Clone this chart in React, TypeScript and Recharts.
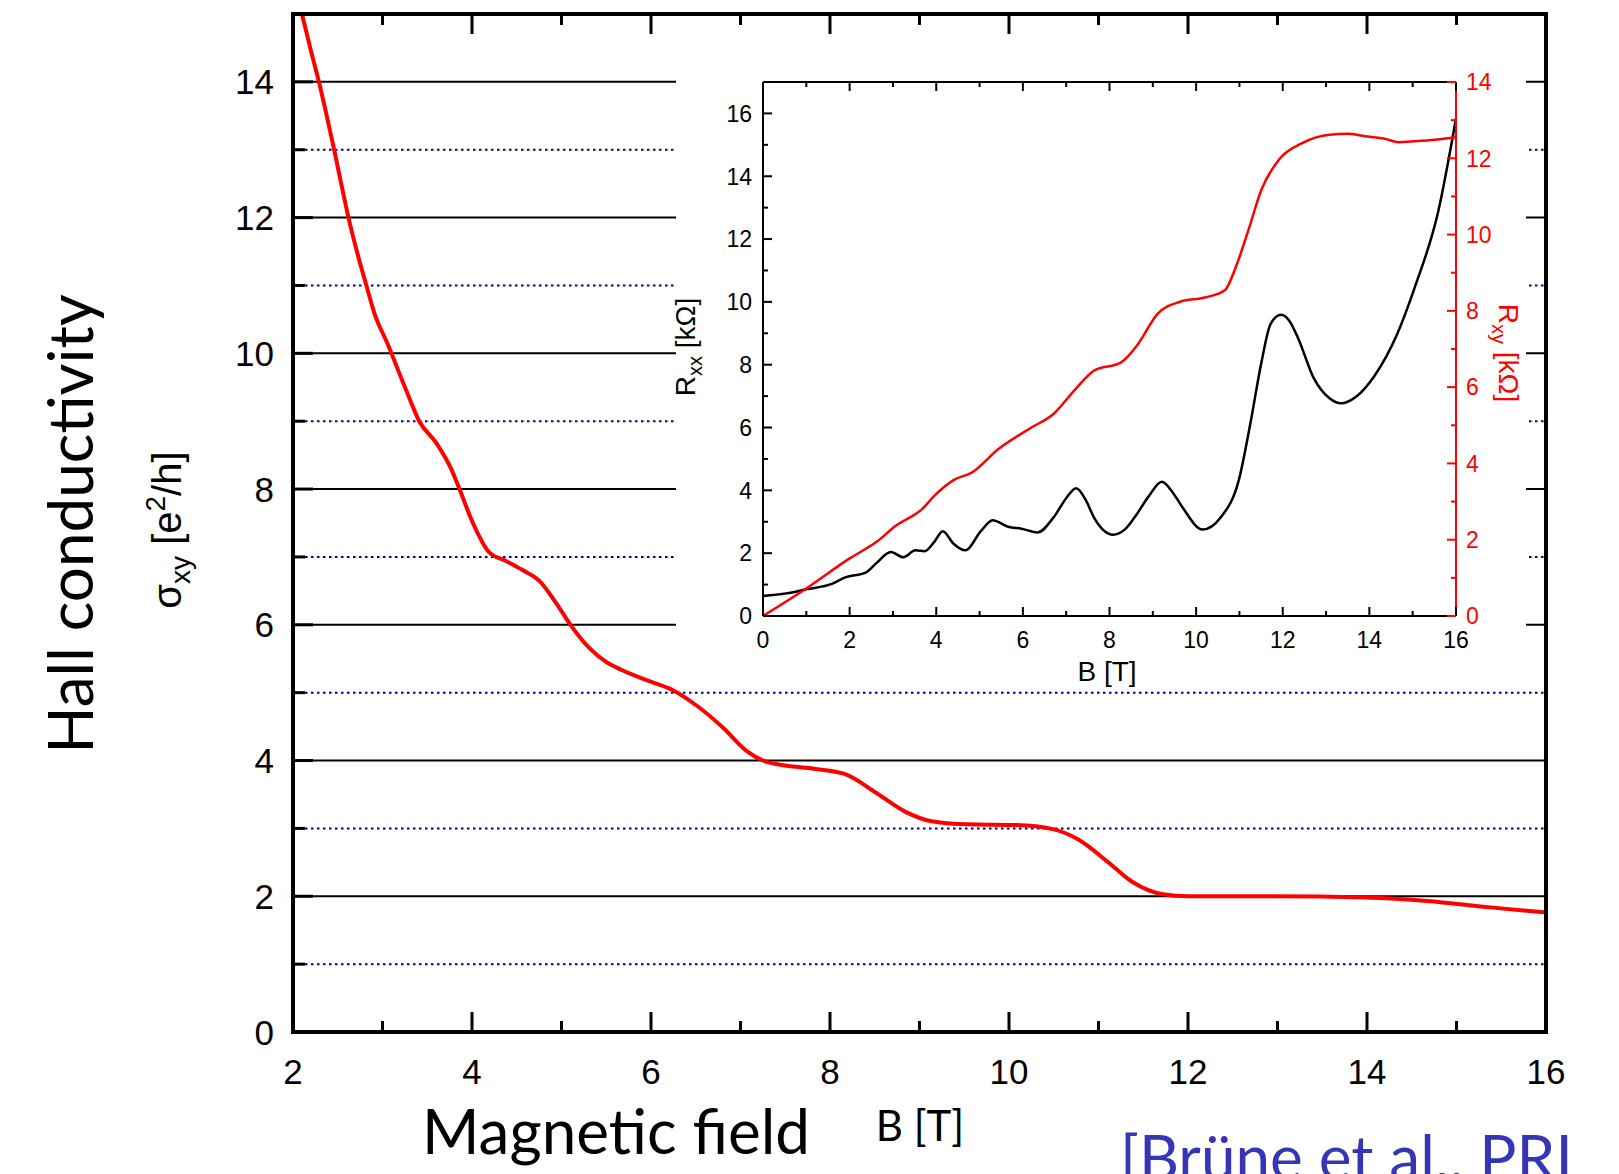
import React from 'react';
import { LineChart, Line, XAxis, YAxis, ReferenceLine } from 'recharts';

// main panel: Hall conductivity (e^2/h) against field B (T)
const mainField = [
  2.10, 2.20, 2.29, 2.37, 2.46, 2.54, 2.62, 2.72, 2.82, 2.91, 3.06, 3.26, 3.41, 3.60, 3.77, 3.86,
  4.01, 4.19, 4.38, 4.56, 4.75, 4.94, 5.10, 5.31, 5.49, 5.68, 5.98, 6.24, 6.52, 6.80, 7.07, 7.27,
  7.48, 7.82, 8.17, 8.51, 8.85, 9.12, 9.53, 10.08, 10.49, 10.77, 11.11, 11.38, 11.72, 12.0, 12.96,
  13.98, 14.67, 15.35, 16.0,
];
const mainSigma = [
  15.0, 14.46, 14.0, 13.54, 13.0, 12.49, 12.0, 11.47, 11.0, 10.59, 10.13, 9.47, 9.0, 8.68, 8.29, 8.0,
  7.50, 7.07, 6.94, 6.81, 6.65, 6.32, 6.0, 5.66, 5.46, 5.33, 5.17, 5.04, 4.80, 4.49, 4.14, 3.99,
  3.93, 3.88, 3.80, 3.53, 3.24, 3.11, 3.06, 3.05, 2.99, 2.84, 2.50, 2.21, 2.03, 2.0, 2.0,
  1.98, 1.93, 1.84, 1.76,
];
const plateauLevels = [2, 4, 6, 8, 10, 12, 14];
const halfLevels = [1, 3, 5, 7, 9, 11, 13];
const mainXTicks = [2, 3, 4, 5, 6, 7, 8, 9, 10, 11, 12, 13, 14, 15, 16];
const mainYTicks = [0, 1, 2, 3, 4, 5, 6, 7, 8, 9, 10, 11, 12, 13, 14];

// inset: Rxx (left axis) and Rxy (right axis), kOhm
const rxxField = [
  0, 0.54, 1.0, 1.59, 1.9, 2.37, 2.63, 2.95, 3.24, 3.52, 3.73, 3.95, 4.15, 4.4, 4.67, 5.03, 5.30,
  5.66, 5.97, 6.34, 6.71, 7.0, 7.23, 7.45, 7.64, 8.08, 8.35, 8.58, 8.9, 9.21, 9.45, 9.68, 10.15,
  10.57, 10.99, 11.25, 11.51, 11.72, 11.96, 12.15, 12.35, 12.71, 13.08, 13.34, 13.7, 14.12, 14.64,
  15.06, 15.58, 16.0,
];
const rxxValues = [
  0.64, 0.72, 0.85, 1.02, 1.23, 1.38, 1.70, 2.04, 1.87, 2.09, 2.06, 2.35, 2.70, 2.30, 2.09, 2.70, 3.05,
  2.84, 2.78, 2.66, 3.14, 3.75, 4.07, 3.70, 3.14, 2.59, 2.75, 3.14, 3.80, 4.27, 3.95, 3.47, 2.75,
  3.14, 4.35, 6.11, 8.09, 9.30, 9.59, 9.40, 8.86, 7.59, 6.93, 6.77, 6.99, 7.65, 8.97,
  10.51, 12.82, 15.84,
];
const rxyField = [
  0, 1.0, 2.0, 2.63, 3.05, 3.68, 4.0, 4.41, 4.82, 5.45, 6.18, 6.70, 7.23, 7.64, 8.27, 8.64, 9.11,
  9.63, 10.2, 10.67, 10.93, 11.2, 11.51, 11.93, 12.45, 13.08, 13.5, 13.9, 14.33, 14.7, 14.96, 15.38, 16.0,
];
const rxyValues = [
  0, 0.72, 1.51, 1.95, 2.35, 2.81, 3.20, 3.57, 3.76, 4.39, 4.93, 5.29, 5.97, 6.43, 6.65, 7.10, 7.92,
  8.24, 8.35, 8.55, 9.19, 10.09, 11.18, 11.99, 12.40, 12.62, 12.64, 12.58, 12.52, 12.42, 12.44, 12.47, 12.55,
];
const insetXTicks = [0, 1, 2, 3, 4, 5, 6, 7, 8, 9, 10, 11, 12, 13, 14, 15, 16];
const insetLeftTicks = [0, 1, 2, 3, 4, 5, 6, 7, 8, 9, 10, 11, 12, 13, 14, 15, 16];
const insetRightTicks = [0, 1, 2, 3, 4, 5, 6, 7, 8, 9, 10, 11, 12, 13, 14];

const mainData = mainField.map((b, i) => ({ b, sigma: mainSigma[i] }));
const rxxData = rxxField.map((b, i) => ({ b, r: rxxValues[i] }));
const rxyData = rxyField.map((b, i) => ({ b, r: rxyValues[i] }));

const HELV = 'Liberation Sans, Arial, Helvetica, sans-serif';
const SANS = 'Lato, Liberation Sans, sans-serif';
const RED = '#ff0000';

type Side = 'left' | 'right' | 'top' | 'bottom';
interface TickStyle {
  side: Side;
  major: number;
  minor: number;
  width: number;
  color: string;
  label?: { gap: number; size: number; color: string };
}

// inward ticks, long on even values (with label), short on odd ones
const makeTick = (s: TickStyle) => (props: any) => {
  const { x, y, payload } = props;
  const v = Number(payload.value);
  const isMajor = v % 2 === 0;
  const len = isMajor ? s.major : s.minor;
  const dx = s.side === 'left' ? len : s.side === 'right' ? -len : 0;
  const dy = s.side === 'top' ? len : s.side === 'bottom' ? -len : 0;
  let text = null;
  if (s.label && isMajor) {
    const common = { fontSize: s.label.size, fill: s.label.color, fontFamily: HELV };
    if (s.side === 'left') {
      text = <text x={x - s.label.gap} y={y} dy="0.36em" textAnchor="end" {...common}>{v}</text>;
    } else if (s.side === 'right') {
      text = <text x={x + s.label.gap} y={y} dy="0.36em" textAnchor="start" {...common}>{v}</text>;
    } else if (s.side === 'bottom') {
      text = <text x={x} y={y + s.label.gap} textAnchor="middle" {...common}>{v}</text>;
    }
  }
  return (
    <g>
      <line x1={x} y1={y} x2={x + dx} y2={y + dy} stroke={s.color} strokeWidth={s.width} />
      {text}
    </g>
  );
};

const mainAxis = { stroke: '#000', strokeWidth: 4, strokeLinecap: 'square' as const };
const insetAxis = { stroke: '#000', strokeWidth: 2 };

// axes are 1px thick boxes (a zero-size axis is not drawn), margins make up the rest
const MainPanel = () => (
  <LineChart width={1619} height={1174} data={mainData} margin={{ top: 13, right: 72, bottom: 141, left: 292 }}>
    <XAxis
      dataKey="b" type="number" domain={[2, 16]} ticks={mainXTicks} interval={0}
      height={1} tickSize={0} tickMargin={0} tickLine={false} axisLine={mainAxis}
      tick={makeTick({ side: 'bottom', major: 20, minor: 11, width: 3, color: '#000', label: { gap: 52, size: 35, color: '#000' } })}
    />
    <XAxis
      xAxisId="top" orientation="top" dataKey="b" type="number" domain={[2, 16]} ticks={mainXTicks} interval={0}
      allowDataOverflow height={1} tickSize={0} tickMargin={0} tickLine={false} axisLine={mainAxis}
      tick={makeTick({ side: 'top', major: 20, minor: 11, width: 3, color: '#000' })}
    />
    <YAxis
      type="number" domain={[0, 15]} ticks={mainYTicks} interval={0} allowDataOverflow
      width={1} tickSize={0} tickMargin={0} tickLine={false} axisLine={mainAxis}
      tick={makeTick({ side: 'left', major: 20, minor: 12, width: 3, color: '#000', label: { gap: 19, size: 35, color: '#000' } })}
    />
    <YAxis
      yAxisId="right" orientation="right" type="number" domain={[0, 15]} ticks={mainYTicks} interval={0}
      width={1} tickSize={0} tickMargin={0} tickLine={false} axisLine={mainAxis}
      tick={makeTick({ side: 'right', major: 20, minor: 12, width: 3, color: '#000' })}
    />
    {halfLevels.map((v) => (
      <ReferenceLine key={`half-${v}`} y={v} stroke="#000080" strokeWidth={2} strokeDasharray="2.5 3.5" />
    ))}
    {plateauLevels.map((v) => (
      <ReferenceLine key={`plat-${v}`} y={v} stroke="#000" strokeWidth={2} />
    ))}
    <Line dataKey="sigma" type="monotone" stroke={RED} strokeWidth={4} dot={false} isAnimationActive={false} />
  </LineChart>
);

const InsetPanel = () => (
  <div style={{ position: 'absolute', left: 676, top: 45, width: 850, height: 641, background: '#fff' }}>
    <LineChart width={850} height={641} data={rxxData} margin={{ top: 36, right: 69, bottom: 69, left: 86 }}>
      <XAxis
        dataKey="b" type="number" domain={[0, 16]} ticks={insetXTicks} interval={0}
        height={1} tickSize={0} tickMargin={0} tickLine={false} axisLine={insetAxis}
        tick={makeTick({ side: 'bottom', major: 9, minor: 5, width: 2, color: '#000', label: { gap: 32, size: 23, color: '#000' } })}
      />
      <XAxis
        xAxisId="top" orientation="top" dataKey="b" type="number" domain={[0, 16]} ticks={insetXTicks} interval={0}
        allowDataOverflow height={1} tickSize={0} tickMargin={0} tickLine={false} axisLine={insetAxis}
        tick={makeTick({ side: 'top', major: 9, minor: 5, width: 2, color: '#000' })}
      />
      <YAxis
        yAxisId="rxx" type="number" domain={[0, 17]} ticks={insetLeftTicks} interval={0}
        width={1} tickSize={0} tickMargin={0} tickLine={false} axisLine={insetAxis}
        tick={makeTick({ side: 'left', major: 9, minor: 5, width: 2, color: '#000', label: { gap: 11, size: 23, color: '#000' } })}
      />
      <YAxis
        yAxisId="rxy" orientation="right" type="number" domain={[0, 14]} ticks={insetRightTicks} interval={0}
        width={1} tickSize={0} tickMargin={0} tickLine={false} axisLine={{ stroke: RED, strokeWidth: 2 }}
        tick={makeTick({ side: 'right', major: 9, minor: 5, width: 2, color: RED, label: { gap: 10, size: 23, color: RED } })}
      />
      <Line yAxisId="rxx" dataKey="r" type="monotone" stroke="#000" strokeWidth={2.5} dot={false} isAnimationActive={false} />
      <Line data={rxyData} yAxisId="rxy" dataKey="r" type="monotone" stroke={RED} strokeWidth={2.5} dot={false} isAnimationActive={false} />
    </LineChart>
  </div>
);

// axis titles and the citation, in page pixels
const Titles = () => (
  <svg width={1619} height={1174} style={{ position: 'absolute', left: 0, top: 0, pointerEvents: 'none' }}>
    <text x={93} y={524} transform="rotate(-90 93 524)" textAnchor="middle" fontSize={62} fontFamily={SANS} fill="#000">
      Hall conductivity
    </text>
    <text x={181} y={530} transform="rotate(-90 181 530)" textAnchor="middle" fontSize={40} fontFamily={HELV} fill="#000">
      σ<tspan dy={9} fontSize={28}>xy</tspan>
      <tspan dy={-9}> [e</tspan>
      <tspan dy={-16} fontSize={28}>2</tspan>
      <tspan dy={16}>/h]</tspan>
    </text>
    <text x={616} y={1154} textAnchor="middle" fontSize={62} fontFamily={SANS} fill="#000">Magnetic field</text>
    <text x={920} y={1141} textAnchor="middle" fontSize={42} fontFamily={SANS} fill="#000">B [T]</text>
    <text x={1120} y={1180} fontSize={62} fontFamily={SANS} fill="#3535b5">[Brüne et al., PRL</text>

    <text x={1107} y={681} textAnchor="middle" fontSize={28} fontFamily={HELV} fill="#000">B [T]</text>
    <text x={695} y={347} transform="rotate(-90 695 347)" textAnchor="middle" fontSize={28} fontFamily={HELV} fill="#000">
      R<tspan dy={7} fontSize={20}>xx</tspan>
      <tspan dy={-7}> [kΩ]</tspan>
    </text>
    <text x={1499} y={353} transform="rotate(90 1499 353)" textAnchor="middle" fontSize={28} fontFamily={HELV} fill={RED}>
      R<tspan dy={7} fontSize={20}>xy</tspan>
      <tspan dy={-7}> [kΩ]</tspan>
    </text>
  </svg>
);

export default function App() {
  return (
    <div style={{ position: 'relative', width: 1619, height: 1174, overflow: 'hidden', background: '#fff' }}>
      <style>{'body{margin:0;overflow:hidden}'}</style>
      <MainPanel />
      <InsetPanel />
      <Titles />
    </div>
  );
}
